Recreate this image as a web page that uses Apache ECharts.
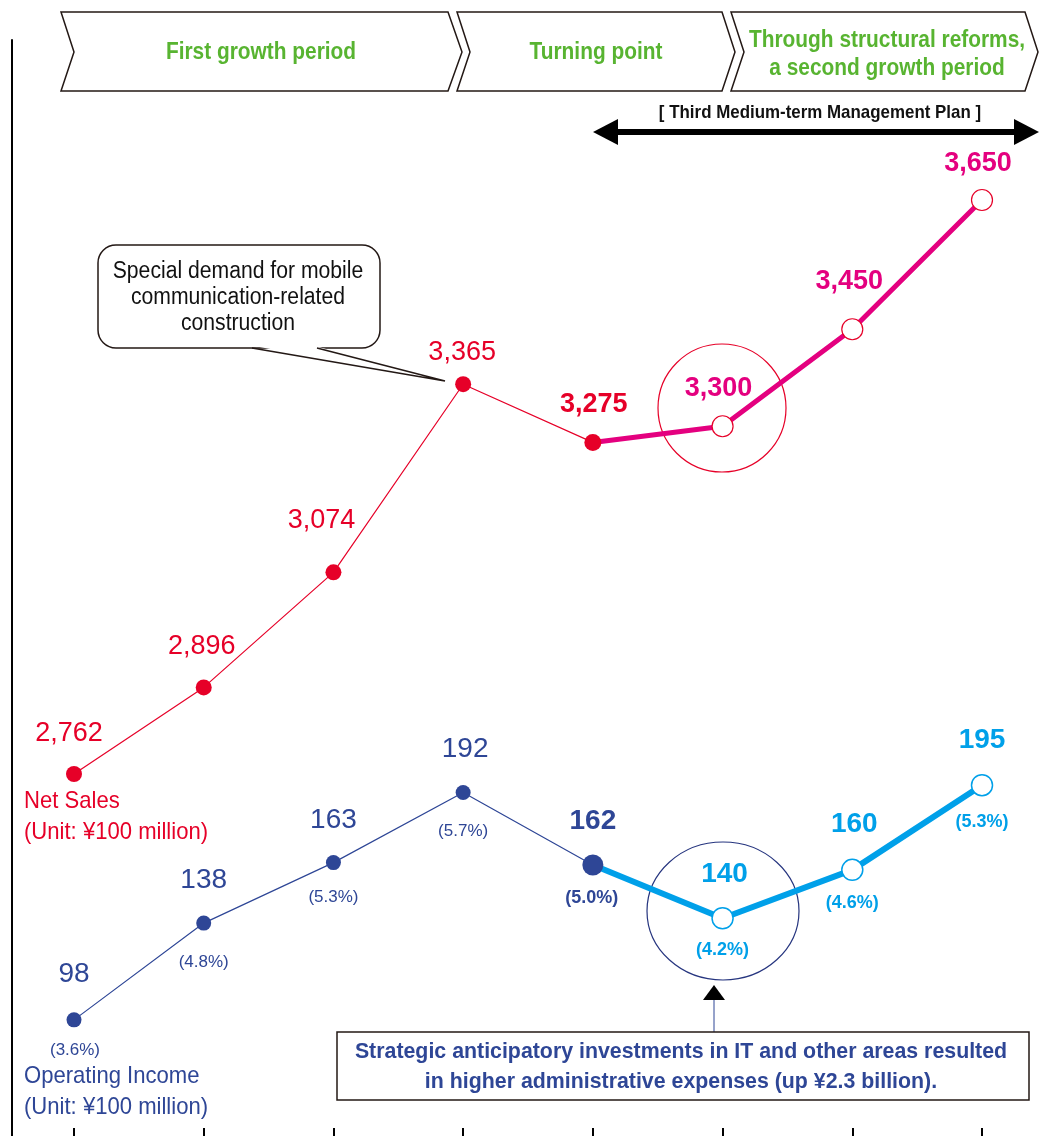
<!DOCTYPE html>
<html>
<head>
<meta charset="utf-8">
<script src="https://cdn.jsdelivr.net/npm/echarts@6/dist/echarts.min.js"></script>
<style>
  html, body { margin: 0; padding: 0; background: #fff; }
  #chart { width: 1039px; height: 1136px; }
</style>
</head>
<body>
<div id="chart"></div>
<script>
// Fiscal periods along the horizontal axis (ticks only, no labels)
const categories = ['P1', 'P2', 'P3', 'P4', 'P5', 'P6', 'P7', 'P8'];
// Net sales, ¥100 million
const netSales = [2762, 2896, 3074, 3365, 3275, 3300, 3450, 3650];
// Operating income, ¥100 million
const operatingIncome = [98, 138, 163, 192, 162, 140, 160, 195];
// Operating margin, %
const operatingMargin = [3.6, 4.8, 5.3, 5.7, 5.0, 4.2, 4.6, 5.3];
// Index of the turning-point year; later years belong to the plan period
const turningIndex = 4;

const FONT = "'Liberation Sans', Arial, sans-serif";
const RED = '#e60028', MAGENTA = '#e4007f', NAVY = '#2e4696', CYAN = '#00a0e9', GREEN = '#58b431';

// Label placement relative to each point (pixels)
const salesLabelOffset = [[-5, -40], [-2, -41], [-12, -52], [-1, -32], [1, -38], [-4, -38], [-3, -48], [-4, -36]];
const incomeLabelOffset = [[0, -46], [0, -43], [0, -42], [2, -43], [0, -44], [2, -44], [2, -46], [0, -45]];
const marginLabelOffset = [[1, 30], [0, 39], [0, 35], [0, 39], [-1, 33], [0, 32], [0, 33], [0, 37]];

const fmt = v => v.toLocaleString('en-US');

const salesDots = netSales.map((v, i) => {
  const planned = i > turningIndex;
  const bold = i >= turningIndex;
  return {
    value: [i, v],
    symbolSize: planned ? 21 : (i === turningIndex ? 17 : 16),
    itemStyle: planned ? { color: '#fff', borderColor: RED, borderWidth: 1.2, opacity: 1 } : { color: RED, opacity: 1 },
    label: {
      show: true, position: 'inside', offset: salesLabelOffset[i],
      formatter: fmt(v), color: planned ? MAGENTA : RED,
      fontFamily: FONT, fontSize: 27, fontWeight: bold ? 'bold' : 'normal'
    }
  };
});

const incomeDots = operatingIncome.map((v, i) => {
  const planned = i > turningIndex;
  const bold = i >= turningIndex;
  return {
    value: [i, v],
    symbolSize: planned ? 21 : (i === turningIndex ? 21 : 15),
    itemStyle: planned ? { color: '#fff', borderColor: CYAN, borderWidth: 1.5, opacity: 1 } : { color: NAVY, opacity: 1 },
    label: {
      show: true, position: 'inside', offset: incomeLabelOffset[i],
      formatter: String(v), color: planned ? CYAN : NAVY,
      fontFamily: FONT, fontSize: 28, fontWeight: bold ? 'bold' : 'normal'
    }
  };
});

const marginMarks = operatingIncome.map((v, i) => {
  const planned = i > turningIndex;
  const bold = i >= turningIndex;
  return {
    value: [i, v],
    label: {
      show: true, position: 'inside', offset: marginLabelOffset[i],
      formatter: '(' + operatingMargin[i].toFixed(1) + '%)', color: planned ? CYAN : NAVY,
      fontFamily: FONT, fontSize: bold ? 18 : 17, fontWeight: bold ? 'bold' : 'normal'
    }
  };
});

// Text drawn with a horizontal squeeze to give a condensed face
const txt = (text, x, y, size, color, weight, sx, extra) => ({
  type: 'text', z: 20, silent: true, x, y, scaleX: sx, scaleY: 1,
  style: Object.assign({
    text, x: 0, y: 0, fontSize: size, fontFamily: FONT, fontWeight: weight || 'normal',
    fill: color, textAlign: 'center', textVerticalAlign: 'middle'
  }, extra || {})
});

const chevronStyle = { fill: '#fff', stroke: '#231815', lineWidth: 1.5 };

const graphics = [
  // period banners
  { type: 'polygon', z: 10, silent: true, shape: { points: [[61, 12], [448, 12], [462, 52], [448, 91], [61, 91], [74, 52]] }, style: chevronStyle },
  { type: 'polygon', z: 10, silent: true, shape: { points: [[457, 12], [722, 12], [735, 52], [722, 91], [457, 91], [470, 52]] }, style: chevronStyle },
  { type: 'polygon', z: 10, silent: true, shape: { points: [[731, 12], [1025, 12], [1038, 52], [1025, 91], [731, 91], [744, 52]] }, style: chevronStyle },
  txt('First growth period', 261, 52, 24, GREEN, 'bold', 0.87),
  txt('Turning point', 596, 52, 24, GREEN, 'bold', 0.87),
  txt('Through structural reforms,\na second growth period', 887, 54, 24, GREEN, 'bold', 0.87, { lineHeight: 28 }),

  // plan span arrow
  txt('[ Third Medium-term Management Plan ]', 820, 113, 19, '#111', 'bold', 0.89),
  { type: 'line', z: 10, silent: true, shape: { x1: 612, y1: 132, x2: 1020, y2: 132 }, style: { stroke: '#000', lineWidth: 6 } },
  { type: 'polygon', z: 10, silent: true, shape: { points: [[593, 132], [618, 119], [618, 145]] }, style: { fill: '#000' } },
  { type: 'polygon', z: 10, silent: true, shape: { points: [[1039, 132], [1014, 119], [1014, 145]] }, style: { fill: '#000' } },

  // speech bubble
  { type: 'rect', z: 10, silent: true, shape: { x: 98, y: 245, width: 282, height: 103, r: 18 }, style: { fill: '#fff', stroke: '#231815', lineWidth: 1.5 } },
  { type: 'polygon', z: 11, silent: true, shape: { points: [[254, 346], [445, 381], [315, 346]] }, style: { fill: '#fff' } },
  { type: 'polyline', z: 12, silent: true, shape: { points: [[252, 348], [445, 381], [317, 348]] }, style: { stroke: '#231815', lineWidth: 1.5, fill: null } },
  txt('Special demand for mobile\ncommunication-related\nconstruction', 238, 298, 23, '#111', 'normal', 0.92, { lineHeight: 26 }),

  // highlight rings
  { type: 'circle', z: 1, silent: true, shape: { cx: 722, cy: 408, r: 64 }, style: { fill: null, stroke: RED, lineWidth: 1.2 } },
  { type: 'ellipse', z: 1, silent: true, shape: { cx: 723, cy: 911, rx: 76, ry: 69 }, style: { fill: null, stroke: '#26357f', lineWidth: 1.2 } },

  // note box and pointer
  { type: 'line', z: 10, silent: true, shape: { x1: 714, y1: 998, x2: 714, y2: 1032 }, style: { stroke: NAVY, lineWidth: 1 } },
  { type: 'polygon', z: 10, silent: true, shape: { points: [[714, 985], [703, 1000], [725, 1000]] }, style: { fill: '#000' } },
  { type: 'rect', z: 10, silent: true, shape: { x: 337, y: 1032, width: 692, height: 68 }, style: { fill: '#fff', stroke: '#231815', lineWidth: 1.5 } },
  txt('Strategic anticipatory investments in IT and other areas resulted\nin higher administrative expenses (up ¥2.3 billion).', 681, 1067, 22, NAVY, 'bold', 0.97, { lineHeight: 30 }),

  // series captions
  txt('Net Sales\n(Unit: ¥100 million)', 24, 817, 24, RED, 'normal', 0.92, { textAlign: 'left', lineHeight: 31 }),
  txt('Operating Income\n(Unit: ¥100 million)', 24, 1092, 24, NAVY, 'normal', 0.92, { textAlign: 'left', lineHeight: 31 })
];

const chart = echarts.init(document.getElementById('chart'), null, { renderer: 'canvas' });
chart.setOption({
  animation: false,
  backgroundColor: '#fff',
  grid: { left: 74, right: 57, top: 40, bottom: 0, containLabel: false },
  xAxis: {
    type: 'category', data: categories, boundaryGap: false,
    axisLine: { show: false },
    axisTick: { show: true, inside: true, length: 8, lineStyle: { color: '#000', width: 2 } },
    axisLabel: { show: false }, splitLine: { show: false }
  },
  yAxis: [
    {
      type: 'value', min: 2202, max: 3897.5, position: 'left', offset: 62,
      axisLine: { show: true, lineStyle: { color: '#000', width: 2 } },
      axisTick: { show: false }, axisLabel: { show: false }, splitLine: { show: false }
    },
    { type: 'value', min: 50, max: 503, show: false, splitLine: { show: false } }
  ],
  graphic: graphics,
  series: [
    { type: 'line', yAxisIndex: 0, silent: true, symbol: 'none', z: 3,
      data: netSales.map((v, i) => i <= turningIndex ? v : '-'), lineStyle: { color: RED, width: 1.2 } },
    { type: 'line', yAxisIndex: 0, silent: true, symbol: 'none', z: 3,
      data: netSales.map((v, i) => i >= turningIndex ? v : '-'), lineStyle: { color: MAGENTA, width: 5 } },
    { type: 'line', yAxisIndex: 1, silent: true, symbol: 'none', z: 3,
      data: operatingIncome.map((v, i) => i <= turningIndex ? v : '-'), lineStyle: { color: NAVY, width: 1.2 } },
    { type: 'line', yAxisIndex: 1, silent: true, symbol: 'none', z: 3,
      data: operatingIncome.map((v, i) => i >= turningIndex ? v : '-'), lineStyle: { color: CYAN, width: 6 } },
    { type: 'scatter', yAxisIndex: 0, silent: true, z: 5, itemStyle: { opacity: 1 }, data: salesDots },
    { type: 'scatter', yAxisIndex: 1, silent: true, z: 5, itemStyle: { opacity: 1 }, data: incomeDots },
    { type: 'scatter', yAxisIndex: 1, silent: true, z: 4, symbolSize: 1,
      itemStyle: { color: 'rgba(0,0,0,0)', opacity: 1 }, data: marginMarks }
  ]
});
</script>
</body>
</html>
